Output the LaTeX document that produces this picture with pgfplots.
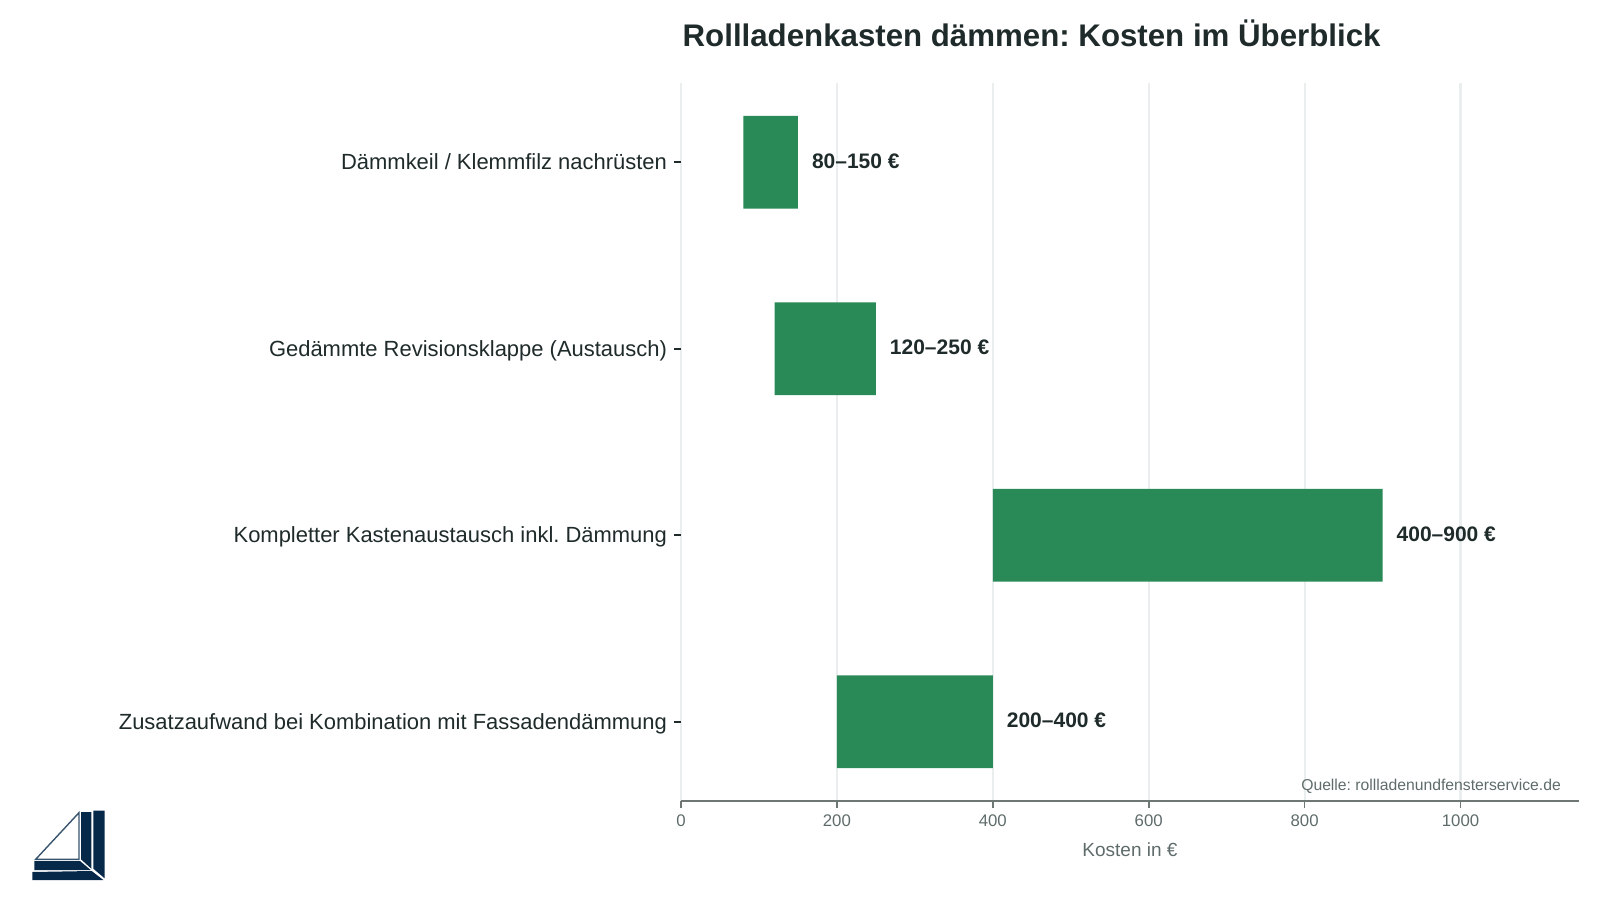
\documentclass[border=0pt]{standalone}
\usepackage{fontspec}
\setmainfont{Liberation Sans}
\usepackage{pgfplots}
\pgfplotsset{compat=1.18}
\definecolor{barc}{HTML}{2A8A57}
\definecolor{axc}{HTML}{6F7775}
\definecolor{txt}{HTML}{1F2A2A}
\definecolor{tickt}{HTML}{5F6B6B}
\definecolor{gridc}{HTML}{EAEEEE}
\definecolor{navy}{HTML}{06294A}
\frenchspacing
\begin{document}
\frenchspacing
\begin{tikzpicture}[x=1pt,y=1pt]
\path[use as bounding box] (0,0) rectangle (800,450);
\begin{axis}[
  at={(340.5pt,49.5pt)}, anchor=south west,
  scale only axis, width=449pt, height=359pt,
  xmin=0, xmax=1152, ymin=-0.425, ymax=3.425, y dir=reverse,
  xbar stacked, bar width=46.4pt,
  axis y line*=left, axis x line*=bottom,
  axis line style={draw=none},
  x axis line style={draw=axc, line width=1pt, -},
  y axis line style={draw=none},
  xtick={0,200,400,600,800,1000},
  ytick={0,1,2,3},
  yticklabels={Dämmkeil / Klemmfilz nachrüsten, Gedämmte Revisionsklappe (Austausch), Kompletter Kastenaustausch inkl. Dämmung, Zusatzaufwand bei Kombination mit Fassadendämmung},
  xmajorgrids, grid style={gridc, line width=1.1pt},
  major tick length=3.5pt,
  tick align=outside,
  xtick style={draw=axc, line width=0.8pt},
  ytick style={draw=txt, line width=0.9pt},
  /pgf/number format/assume math mode=true,
  /pgf/number format/1000 sep={},
  xticklabel style={font=\fontsize{8.4}{10}\selectfont, text=tickt},
  yticklabel style={font=\fontsize{10.98}{13}\selectfont, text=txt, text height=8pt, text depth=0.3pt},
  xlabel={Kosten in €},
  xlabel style={font=\fontsize{9.5}{11}\selectfont, text=tickt, yshift=-1.2pt},
  clip=false,
]
\addplot[draw=none, fill=none, forget plot] coordinates {(80,0) (120,1) (400,2) (200,3)};
\addplot[draw=none, fill=barc] coordinates {(70,0) (130,1) (500,2) (200,3)};
\node[anchor=west, yshift=0.7pt, font=\bfseries\fontsize{10.5}{12}\selectfont, text=txt] at (axis cs:159,0) {80–150 €};
\node[anchor=west, yshift=0.7pt, font=\bfseries\fontsize{10.5}{12}\selectfont, text=txt] at (axis cs:259,1) {120–250 €};
\node[anchor=west, yshift=0.7pt, font=\bfseries\fontsize{10.5}{12}\selectfont, text=txt] at (axis cs:909,2) {400–900 €};
\node[anchor=west, yshift=0.7pt, font=\bfseries\fontsize{10.5}{12}\selectfont, text=txt] at (axis cs:409,3) {200–400 €};
\end{axis}
\node[font=\bfseries\fontsize{15.62}{18}\selectfont, text=txt] at (515.8,433.5) {Rollladenkasten dämmen: Kosten im Überblick};
\node[anchor=base east, inner sep=0pt, font=\fontsize{7.86}{10}\selectfont, text=tickt] at (780.6,55) {Quelle: rollladenundfensterservice.de};
\begin{scope}[shift={(0,65)}, x=0.16667pt, y=-0.16667pt]
\fill[navy] (280,122)--(314,122)--(314,325)--(280,296)--cycle;
\fill[navy] (243,126)--(274,126)--(274,296)--(243,268)--cycle;
\fill[navy] (103,273)--(240,273)--(272,300)--(103,300)--cycle;
\fill[navy] (97,306)--(275,303)--(310,330)--(97,330)--cycle;
\draw[navy!80, line width=0.7pt] (237,128)--(107,268)--(237,268)--cycle;
\end{scope}
\end{tikzpicture}
\end{document}
